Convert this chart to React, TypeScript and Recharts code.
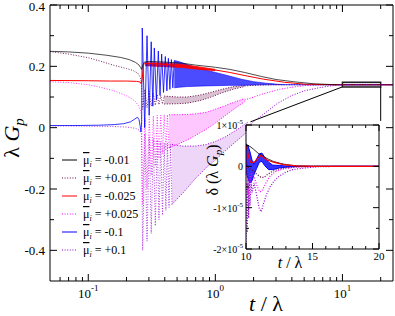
import React from 'react';
import { ComposedChart, Line, Area, XAxis, YAxis, ReferenceArea, ReferenceLine } from 'recharts';

type P = [number, number];
type B = [number, number, number];

const FONT = '"Liberation Serif", "Times New Roman", serif';
const BLACK = '#000000';
const MAROON = '#670748';
const RED = '#ff0000';
const MAGENTA = '#ff00ff';
const BLUE = '#0000ff';
const VIOLET = '#9400d3';

// ---------- main panel data : [t/λ, λG_p] ----------
const blackLine: P[] = [[0.05,0.249],[0.07,0.247],[0.1,0.243],[0.14,0.236],[0.18,0.229],[0.21,0.222],[0.235,0.213],[0.25,0.205],[0.258,0.196],[0.263,0.19],[0.268,0.203],[0.276,0.214],[0.3,0.216],[0.4,0.214],[0.55,0.21],[0.7,0.204],[1,0.197],[1.3,0.19],[1.7,0.18],[2.3,0.167],[3,0.157],[4.3,0.149],[6,0.143],[9,0.14],[25,0.14]];
const redLine: P[] = [[0.05,0.154],[0.1,0.153],[0.15,0.152],[0.2,0.152],[0.24,0.151],[0.255,0.149],[0.262,0.142],[0.266,0.16],[0.272,0.205],[0.28,0.21],[0.35,0.208],[0.5,0.203],[0.7,0.194],[1,0.188],[1.3,0.18],[1.8,0.168],[2.4,0.158],[3.5,0.148],[5,0.142],[8,0.14],[25,0.14]];
const redBand: B[] = [[0.28,0.202,0.212],[0.4,0.199,0.211],[0.55,0.196,0.206],[0.75,0.19,0.198],[1,0.186,0.19]];
const maroonLine: P[] = [[0.05,0.248],[0.07,0.24],[0.1,0.228],[0.124,0.217],[0.16,0.203],[0.2,0.193],[0.226,0.186],[0.245,0.178],[0.256,0.165],[0.262,0.145],[0.268,0.06],[0.279,0.125],[0.29,0.065],[0.302,0.118],[0.313,0.07],[0.325,0.112],[0.337,0.073],[0.349,0.108],[0.36,0.075],[0.372,0.105],[0.384,0.077],[0.396,0.103]];
const maroonBand: B[] = [[0.396,0.077,0.103],[0.5,0.078,0.1],[0.6,0.08,0.1],[0.75,0.088,0.106],[0.9,0.098,0.114],[1.1,0.112,0.124],[1.4,0.126,0.134],[1.7,0.134,0.138]];
const maroonTail: P[] = [[1.7,0.136],[2.2,0.139],[3,0.14],[25,0.14]];
const magentaLine: P[] = [[0.05,0.15],[0.07,0.147],[0.1,0.14],[0.13,0.13],[0.16,0.12],[0.19,0.108],[0.215,0.097],[0.235,0.085],[0.25,0.07],[0.258,0.055],[0.263,0.04],[0.268,-0.25],[0.279,0.03],[0.29,-0.2],[0.302,0.035],[0.313,-0.155],[0.325,0.038],[0.337,-0.125],[0.349,0.04],[0.36,-0.1],[0.372,0.04],[0.384,-0.085],[0.396,0.042],[0.408,-0.075],[0.42,0.042],[0.432,-0.066]];
const magentaBand: B[] = [[0.432,-0.066,0.042],[0.5,-0.055,0.042],[0.6,-0.04,0.043],[0.7,-0.025,0.045],[0.85,-0.005,0.05],[1,0.015,0.06],[1.2,0.04,0.072],[1.45,0.065,0.085],[1.7,0.085,0.095]];
const magentaTail: P[] = [[1.7,0.09],[2,0.1],[2.5,0.113],[3.2,0.125],[4,0.132],[5,0.137],[7,0.14],[25,0.14]];
const blueLine: P[] = [[0.05,0.007],[0.08,0.007],[0.12,0.008],[0.16,0.01],[0.19,0.013],[0.215,0.019],[0.232,0.028],[0.244,0.034],[0.251,0.026],[0.256,0.005],[0.26,-0.014],[0.263,0.02],[0.266,0.325],[0.278,0.0],[0.29,0.3],[0.3015,0.04],[0.313,0.28],[0.322,0.07],[0.331,0.26],[0.3435,0.09],[0.356,0.25],[0.367,0.105],[0.378,0.24],[0.391,0.115],[0.404,0.232],[0.4155,0.12],[0.427,0.226],[0.439,0.125],[0.451,0.222],[0.463,0.13],[0.475,0.219]];
const blueBand: B[] = [[0.475,0.13,0.219],[0.52,0.132,0.215],[0.6,0.134,0.206],[0.7,0.135,0.196],[0.8,0.136,0.19],[1,0.137,0.18],[1.3,0.138,0.168],[1.6,0.138,0.158],[2,0.139,0.15],[2.5,0.14,0.145],[3,0.14,0.142],[3.5,0.14,0.14]];
const blueTail: P[] = [[3.5,0.14],[25,0.14]];
const violetLine: P[] = [[0.05,0.006],[0.1,0.005],[0.15,0.004],[0.2,0.002],[0.235,-0.002],[0.252,-0.008],[0.262,-0.02],[0.268,-0.4],[0.279,-0.02],[0.29,-0.37],[0.302,-0.03],[0.313,-0.345],[0.325,-0.035],[0.337,-0.32],[0.349,-0.04],[0.36,-0.3],[0.372,-0.045],[0.384,-0.285],[0.396,-0.05],[0.408,-0.27],[0.42,-0.05],[0.432,-0.26],[0.444,-0.055],[0.456,-0.25]];
const violetBand: B[] = [[0.456,-0.25,-0.055],[0.55,-0.215,-0.06],[0.7,-0.165,-0.06],[0.85,-0.13,-0.055],[1,-0.105,-0.045],[1.2,-0.075,-0.03],[1.5,-0.04,-0.005],[1.8,-0.012,0.018]];
const violetTail: P[] = [[1.8,0.003],[2,0.02],[2.5,0.05],[3.1,0.08],[4,0.105],[5,0.12],[6.5,0.13],[8,0.136],[10,0.14],[25,0.14]];

// ---------- inset data : [t/λ, δ(λG_p) in units of 1e-5] ----------
const inBlack: P[] = [[10,0.52],[10.3,0.48],[10.55,0.42],[10.9,0.32],[11.3,0.24],[11.7,0.17],[12.05,0.12],[12.5,0.08],[12.8,0.056],[13.3,0.03],[13.8,0.01],[15,0],[20,0]];
const inRed: P[] = [[10,0.52],[10.1,0.4],[10.18,0.24],[10.35,0.1],[10.5,0.09],[10.7,0.12],[10.9,0.2],[11.1,0.26],[11.3,0.22],[11.55,0.16],[12.05,0.1],[12.8,0.04],[13.8,0.01],[15,0],[20,0]];
const inBlueBand: B[] = [[10,-0.1,0.55],[10.15,-0.3,0.5],[10.3,-0.4,0.35],[10.45,-0.35,0.15],[10.6,-0.2,0.05],[10.8,-0.05,0.18],[11,0.1,0.3],[11.2,0.12,0.32],[11.4,0.02,0.22],[11.7,-0.08,0.1],[12,-0.08,0.03],[12.5,-0.04,0.02],[13,-0.02,0.01],[14,0,0],[20,0,0]];
const inMaroon: P[] = [[10,0.1],[10.2,-0.05],[10.5,-0.1],[10.8,-0.19],[11.1,-0.26],[11.35,-0.27],[11.6,-0.2],[12,-0.12],[12.5,-0.06],[13,-0.03],[14,-0.005],[15,0],[20,0]];
const inMagenta: P[] = [[10,0.3],[10.08,-0.3],[10.15,-0.7],[10.25,-0.45],[10.4,-0.15],[10.6,-0.25],[10.85,-0.5],[11.05,-0.62],[11.25,-0.57],[11.5,-0.4],[11.8,-0.24],[12.2,-0.13],[12.7,-0.07],[13.5,-0.03],[14.5,-0.01],[15.5,0],[20,0]];
const inViolet: P[] = [[10,-1.95],[10.05,-0.4],[10.1,-1.6],[10.15,-0.3],[10.2,-1.25],[10.25,-0.3],[10.3,-0.95],[10.38,-0.35],[10.45,-0.65],[10.6,-0.4],[10.8,-0.7],[11,-1.02],[11.15,-1.1],[11.3,-0.92],[11.5,-0.72],[11.8,-0.5],[12.1,-0.36],[12.5,-0.24],[13,-0.14],[13.5,-0.08],[14.5,-0.035],[15.5,-0.01],[17,0],[20,0]];

// ---------- ticks & labels ----------
const xMajor = [0.1, 1, 10];
const xMajorExp = ['-1', '0', '1'];
const xMinor = [0.06,0.07,0.08,0.09,0.2,0.3,0.4,0.5,0.6,0.7,0.8,0.9,2,3,4,5,6,7,8,9,20];
const xTicks = [...xMajor, ...xMinor].sort((a, b) => a - b);
const yMajor = [-0.4, -0.2, 0, 0.2, 0.4];
const yMajorLabels = ['-0.4', '-0.2', '0', '0.2', '0.4'];
const yMinor = [-0.3, -0.1, 0.1, 0.3];
const yTicks = [...yMajor, ...yMinor].sort((a, b) => a - b);

const inXMajor = [10, 15, 20];
const inXTicks = [10,11,12,13,14,15,16,17,18,19,20];
const inYMajor = [-2, -1, 0, 1];
const inYMajorLabels = [['-2×10', '-5'], ['-1×10', '-5'], ['0', ''], ['1×10', '-5']];
const inYTicks = [-2, -1.5, -1, -0.5, 0, 0.5, 1];

const zoomBox = { t1: 10, t2: 20, y1: 0.133, y2: 0.148 };
const zoomLink = { t: 1.887, y: 0.019, yv: 0.022 };

const legendLabels = ['-0.01', '+0.01', '-0.025', '+0.025', '-0.1', '+0.1'];
const legendColors = [BLACK, MAROON, RED, MAGENTA, BLUE, VIOLET];
const legendDotted = [false, true, false, true, false, true];

const pts = (a: P[]) => a.map(([t, v]) => ({ t, v }));
const band = (a: B[]) => a.map(([t, lo, hi]) => ({ t, r: [lo, hi] }));

const DOT = '1 1.6';

// ---------- tick renderers ----------
function MainXTick(p: any) {
  const { x, y, payload } = p;
  const i = xMajor.indexOf(payload.value);
  return (
    <g>
      <line x1={x} x2={x} y1={y} y2={y - (i >= 0 ? 7 : 4)} stroke="#000" />
      {i >= 0 && (
        <text x={x} y={y + 17} textAnchor="middle" fontFamily={FONT} fontSize={13} fill="#000">
          10<tspan dy={-7} fontSize={9}>{xMajorExp[i]}</tspan>
        </text>
      )}
    </g>
  );
}
function MainXTopTick(p: any) {
  const { x, y, payload } = p;
  const major = xMajor.includes(payload.value);
  return <line x1={x} x2={x} y1={y} y2={y + (major ? 7 : 4)} stroke="#000" />;
}
function MainYTick(p: any) {
  const { x, y, payload } = p;
  const i = yMajor.indexOf(payload.value);
  return (
    <g>
      <line x1={x} x2={x + (i >= 0 ? 7 : 4)} y1={y} y2={y} stroke="#000" />
      {i >= 0 && (
        <text x={x - 5} y={Math.max(y + 4.5, 11)} textAnchor="end" fontFamily={FONT} fontSize={13} fill="#000">
          {yMajorLabels[i]}
        </text>
      )}
    </g>
  );
}
function MainYRightTick(p: any) {
  const { x, y, payload } = p;
  const major = yMajor.includes(payload.value);
  return <line x1={x} x2={x - (major ? 7 : 4)} y1={y} y2={y} stroke="#000" />;
}
function InXTick(p: any) {
  const { x, y, payload } = p;
  const major = inXMajor.includes(payload.value);
  return (
    <g>
      <line x1={x} x2={x} y1={y} y2={y - (major ? 6 : 3)} stroke="#000" />
      {major && (
        <text x={x} y={y + 11} textAnchor="middle" fontFamily={FONT} fontSize={11} fill="#000">
          {payload.value}
        </text>
      )}
    </g>
  );
}
function InXTopTick(p: any) {
  const { x, y, payload } = p;
  const major = inXMajor.includes(payload.value);
  return <line x1={x} x2={x} y1={y} y2={y + (major ? 6 : 3)} stroke="#000" />;
}
function InYTick(p: any) {
  const { x, y, payload } = p;
  const i = inYMajor.indexOf(payload.value);
  return (
    <g>
      <line x1={x} x2={x + (i >= 0 ? 6 : 3)} y1={y} y2={y} stroke="#000" />
      {i >= 0 && (
        <text x={x - 3} y={y + 4} textAnchor="end" fontFamily={FONT} fontSize={10} fill="#000">
          {inYMajorLabels[i][0]}
          {inYMajorLabels[i][1] && <tspan dy={-5} fontSize={7}>{inYMajorLabels[i][1]}</tspan>}
        </text>
      )}
    </g>
  );
}
function InYRightTick(p: any) {
  const { x, y, payload } = p;
  const major = inYMajor.includes(payload.value);
  return <line x1={x} x2={x - (major ? 6 : 3)} y1={y} y2={y} stroke="#000" />;
}

const lineCommon = { type: 'linear' as const, dataKey: 'v', dot: false, activeDot: false, isAnimationActive: false, legendType: 'none' as const };
const areaCommon = { type: 'linear' as const, dataKey: 'r', dot: false, activeDot: false, isAnimationActive: false, legendType: 'none' as const };

export default function App() {
  return (
    <div style={{ position: 'absolute', left: 0, top: 0, width: 395, height: 316, background: '#fff' }}>
      <div style={{ position: 'absolute', left: 0, top: 0 }}>
        <ComposedChart width={395} height={316} margin={{ top: 0, right: 0, bottom: 0, left: 0 }}>
          <XAxis xAxisId={0} dataKey="t" type="number" scale="log" domain={[0.05, 25]} allowDataOverflow ticks={xTicks} interval={0}
            tickSize={0} tickMargin={0} tickLine={false} tick={<MainXTick />} axisLine={{ stroke: '#000' }} height={35} />
          <XAxis xAxisId="top" orientation="top" dataKey="t" type="number" scale="log" domain={[0.05, 25]} allowDataOverflow ticks={xTicks} interval={0}
            tickSize={0} tickMargin={0} tickLine={false} tick={<MainXTopTick />} axisLine={{ stroke: '#000' }} height={5} />
          <YAxis yAxisId={0} type="number" domain={[-0.5, 0.4]} allowDataOverflow ticks={yTicks} interval={0}
            tickSize={0} tickMargin={0} tickLine={false} tick={<MainYTick />} axisLine={{ stroke: '#000' }} width={50} />
          <YAxis yAxisId="right" orientation="right" type="number" domain={[-0.5, 0.4]} allowDataOverflow ticks={yTicks} interval={0}
            tickSize={0} tickMargin={0} tickLine={false} tick={<MainYRightTick />} axisLine={{ stroke: '#000' }} width={2} />

          <Area {...areaCommon} data={band(violetBand)} stroke={VIOLET} strokeWidth={1} strokeDasharray={DOT} fill={VIOLET} fillOpacity={0.16} />
          <Line {...lineCommon} data={pts(violetLine)} stroke={VIOLET} strokeWidth={0.9} strokeDasharray={DOT} strokeOpacity={0.85} />
          <Area {...areaCommon} data={band(magentaBand)} stroke={MAGENTA} strokeWidth={1} strokeDasharray={DOT} fill={MAGENTA} fillOpacity={0.22} />
          <Line {...lineCommon} data={pts(magentaLine)} stroke={MAGENTA} strokeWidth={0.9} strokeDasharray={DOT} strokeOpacity={0.85} />
          <Line {...lineCommon} data={pts(magentaTail)} stroke={MAGENTA} strokeWidth={1} strokeDasharray={DOT} />
          <Area {...areaCommon} data={band(maroonBand)} stroke={MAROON} strokeWidth={1} strokeDasharray={DOT} fill={MAROON} fillOpacity={0.25} />
          <Line {...lineCommon} data={pts(maroonLine)} stroke={MAROON} strokeWidth={0.9} strokeDasharray={DOT} />
          <Line {...lineCommon} data={pts(maroonTail)} stroke={MAROON} strokeWidth={1} strokeDasharray={DOT} />
          <Area {...areaCommon} data={band(blueBand)} stroke={BLUE} strokeWidth={0.6} fill={BLUE} fillOpacity={0.7} />
          <Line {...lineCommon} data={pts(blueLine)} stroke={BLUE} strokeWidth={0.8} />
          <Line {...lineCommon} data={pts(blueTail)} stroke={BLUE} strokeWidth={0.8} />
          <Area {...areaCommon} data={band(redBand)} stroke={RED} strokeWidth={0.8} fill={RED} fillOpacity={0.9} />
          <Line {...lineCommon} data={pts(redLine)} stroke={RED} strokeWidth={1} />
          <Line {...lineCommon} data={pts(blackLine)} stroke={BLACK} strokeWidth={0.7} />
          <Line {...lineCommon} data={pts(violetTail)} stroke={VIOLET} strokeWidth={1} strokeDasharray={DOT} />

          <ReferenceArea x1={zoomBox.t1} x2={zoomBox.t2} y1={zoomBox.y1} y2={zoomBox.y2} stroke="#222" strokeWidth={1.5} fill="#b8a8d0" fillOpacity={0.35} ifOverflow="visible" />
          <ReferenceLine segment={[{ x: zoomBox.t1, y: zoomBox.y1 }, { x: zoomLink.t, y: zoomLink.y }]} stroke="#000" strokeWidth={1} ifOverflow="visible" />
          <ReferenceLine segment={[{ x: zoomBox.t2, y: zoomBox.y1 }, { x: zoomBox.t2, y: zoomLink.yv }]} stroke="#000" strokeWidth={1} ifOverflow="visible" />
        </ComposedChart>
      </div>

      <div style={{ position: 'absolute', left: 246, top: 125, width: 133, height: 124, background: '#fff' }} />

      <div style={{ position: 'absolute', left: 200, top: 115 }}>
        <ComposedChart width={190} height={165} margin={{ top: 0, right: 10, bottom: 0, left: 0 }}>
          <XAxis xAxisId={0} dataKey="t" type="number" domain={[10, 20]} allowDataOverflow ticks={inXTicks} interval={0}
            tickSize={0} tickMargin={0} tickLine={false} tick={<InXTick />} axisLine={{ stroke: '#000' }} height={31} />
          <XAxis xAxisId="top" orientation="top" dataKey="t" type="number" domain={[10, 20]} allowDataOverflow ticks={inXTicks} interval={0}
            tickSize={0} tickMargin={0} tickLine={false} tick={<InXTopTick />} axisLine={{ stroke: '#000' }} height={10} />
          <YAxis yAxisId={0} type="number" domain={[-2, 1]} allowDataOverflow ticks={inYTicks} interval={0}
            tickSize={0} tickMargin={0} tickLine={false} tick={<InYTick />} axisLine={{ stroke: '#000' }} width={46} />
          <YAxis yAxisId="right" orientation="right" type="number" domain={[-2, 1]} allowDataOverflow ticks={inYTicks} interval={0}
            tickSize={0} tickMargin={0} tickLine={false} tick={<InYRightTick />} axisLine={{ stroke: '#000' }} width={1} />

          <Line {...lineCommon} data={pts(inViolet)} stroke={VIOLET} strokeWidth={1.2} strokeDasharray={DOT} />
          <Line {...lineCommon} data={pts(inMagenta)} stroke={MAGENTA} strokeWidth={1.2} strokeDasharray={DOT} />
          <Line {...lineCommon} data={pts(inMaroon)} stroke={MAROON} strokeWidth={1.2} strokeDasharray={DOT} />
          <Line {...lineCommon} data={pts(inBlack)} stroke={BLACK} strokeWidth={0.8} />
          <Line {...lineCommon} data={pts(inRed)} stroke={RED} strokeWidth={1.2} />
          <Area {...areaCommon} data={band(inBlueBand)} stroke={BLUE} strokeWidth={1} fill={BLUE} fillOpacity={0.8} />
        </ComposedChart>
      </div>

      <svg width={395} height={316} style={{ position: 'absolute', left: 0, top: 0, pointerEvents: 'none' }}>
        <text transform="rotate(-90 19 138)" x={19} y={138} textAnchor="middle" fontFamily={FONT} fontSize={22} fill="#000">
          λ <tspan fontStyle="italic">G</tspan><tspan fontStyle="italic" fontSize={15} dy={5}>p</tspan>
        </text>
        <text x={266} y={311} textAnchor="middle" fontFamily={FONT} fontSize={22} fill="#000">
          <tspan fontStyle="italic">t</tspan> / λ
        </text>
        <text transform="rotate(-90 218 170)" x={218} y={170} textAnchor="middle" fontFamily={FONT} fontSize={16} fill="#000">
          δ (λ <tspan fontStyle="italic">G</tspan><tspan fontStyle="italic" fontSize={11} dy={4}>p</tspan><tspan dy={-4}>)</tspan>
        </text>
        <text x={290} y={268} textAnchor="middle" fontFamily={FONT} fontSize={16} fill="#000">
          <tspan fontStyle="italic">t</tspan> / λ
        </text>
        {legendLabels.map((lab, i) => {
          const cy = 160 + i * 18;
          return (
            <g key={lab}>
              <line x1={62} x2={77} y1={cy} y2={cy} stroke={legendColors[i]} strokeWidth={1}
                strokeDasharray={legendDotted[i] ? DOT : undefined} />
              <text x={83} y={cy + 4} fontFamily={FONT} fontSize={12} fill="#000">
                <tspan textDecoration="overline">μ</tspan>
                <tspan dy={3} fontSize={8} fontStyle="italic">i</tspan>
                <tspan dy={-3}>{' = ' + lab}</tspan>
              </text>
            </g>
          );
        })}
      </svg>
    </div>
  );
}
